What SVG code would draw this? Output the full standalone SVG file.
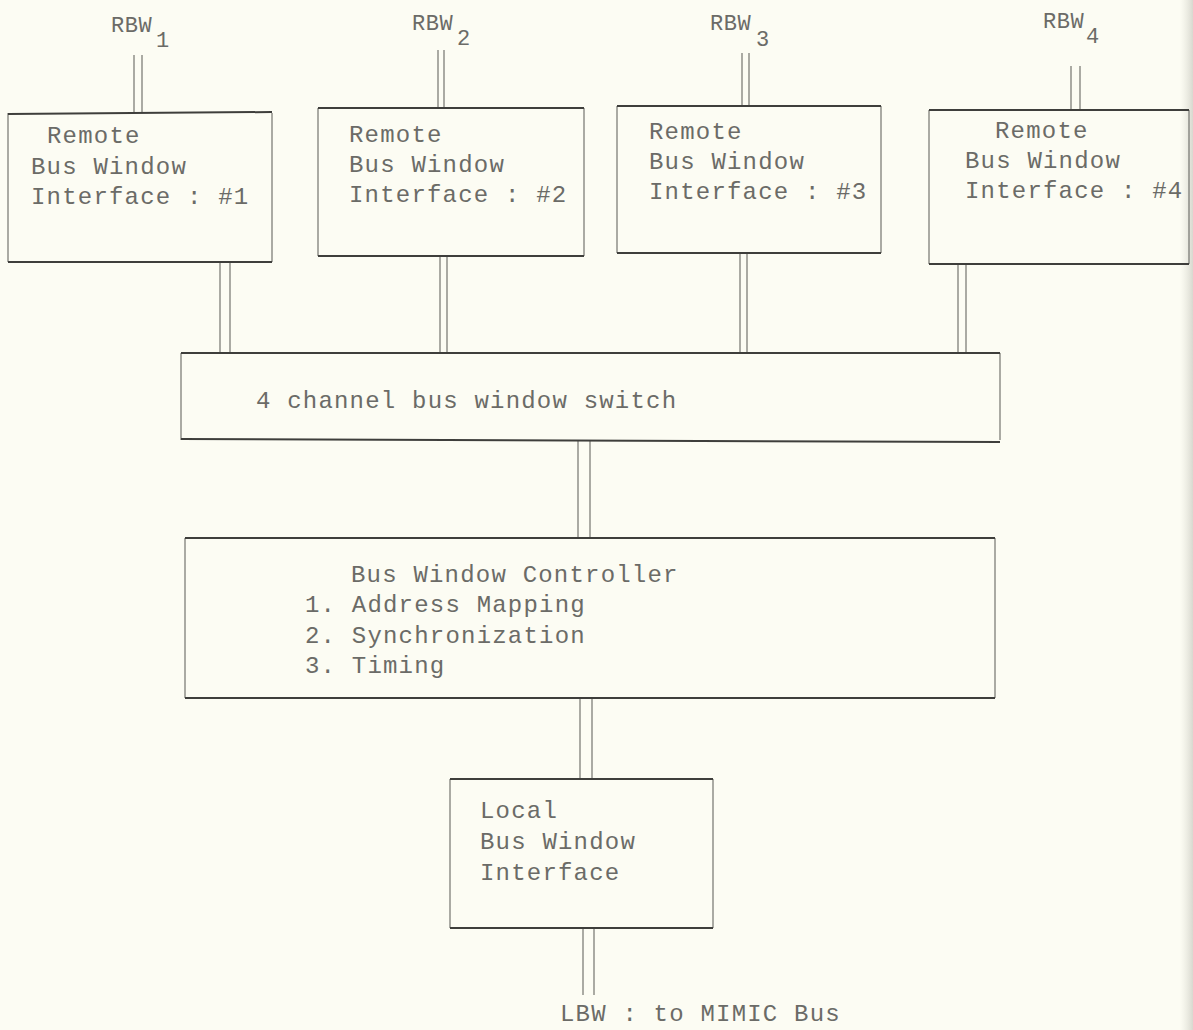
<svg xmlns="http://www.w3.org/2000/svg" width="1193" height="1030" viewBox="0 0 1193 1030">
  <defs>
    <linearGradient id="pageEdge" x1="0" y1="0" x2="1" y2="0">
      <stop offset="0" stop-color="#e6e6dc" stop-opacity="0"/>
      <stop offset="1" stop-color="#d8d8cf" stop-opacity="1"/>
    </linearGradient>
    <style>
      .bg { fill: #fcfcf3; }
      .side { fill: none; stroke: #74746f; stroke-width: 1.2; }
      .edge { fill: none; stroke: #3e3e3b; stroke-width: 2; }
      .bus { fill: none; stroke: #74746f; stroke-width: 1.2; }
      .t { font-family: "Liberation Mono", "Courier New", monospace; font-size: 24px; letter-spacing: 1.2px; fill: #6b6b67; }
      .lbl { font-family: "Liberation Mono", "Courier New", monospace; font-size: 22px; letter-spacing: 0.6px; fill: #6b6b67; }
    </style>
  </defs>

  <rect class="bg" x="0" y="0" width="1193" height="1030"/>
  <rect x="1180" y="0" width="13" height="1030" fill="url(#pageEdge)"/>

  <!-- bus connectors (double lines) -->
  <g id="connectors">
    <path class="bus" d="M134 55V113M142 55V113"/>
    <path class="bus" d="M438 50V108M444 50V108"/>
    <path class="bus" d="M742 53V106M749 53V106"/>
    <path class="bus" d="M1071 66V110M1080 66V110"/>
    <path class="bus" d="M220 262V353M230 262V353"/>
    <path class="bus" d="M440 256V353M447 256V353"/>
    <path class="bus" d="M740 253V353M747 253V353"/>
    <path class="bus" d="M958 264V353M966 264V353"/>
    <path class="bus" d="M578 440V538M590 440V538"/>
    <path class="bus" d="M580 698V779M592 698V779"/>
    <path class="bus" d="M583 928V995M594 928V995"/>
  </g>

  <!-- external bus labels -->
  <g id="label-rbw1">
    <text class="lbl" x="111" y="32">RBW</text>
    <text class="lbl" x="156" y="47">1</text>
  </g>
  <g id="label-rbw2">
    <text class="lbl" x="412" y="30">RBW</text>
    <text class="lbl" x="457" y="45">2</text>
  </g>
  <g id="label-rbw3">
    <text class="lbl" x="710" y="30">RBW</text>
    <text class="lbl" x="756" y="46">3</text>
  </g>
  <g id="label-rbw4">
    <text class="lbl" x="1043" y="28">RBW</text>
    <text class="lbl" x="1086" y="43">4</text>
  </g>

  <!-- remote bus window interfaces -->
  <g id="rbwi-1">
    <path class="side" d="M8 113V262M272 113V262"/>
    <path class="edge" d="M8 114L272 112M8 262H272"/>
    <text class="t" x="47" y="143">Remote</text>
    <text class="t" x="31" y="174">Bus Window</text>
    <text class="t" x="31" y="204">Interface : #1</text>
  </g>
  <g id="rbwi-2">
    <path class="side" d="M318 108V256M584 108V256"/>
    <path class="edge" d="M318 108H584M318 256H584"/>
    <text class="t" x="349" y="142">Remote</text>
    <text class="t" x="349" y="172">Bus Window</text>
    <text class="t" x="349" y="202">Interface : #2</text>
  </g>
  <g id="rbwi-3">
    <path class="side" d="M617 106V253M881 106V253"/>
    <path class="edge" d="M617 106H881M617 253H881"/>
    <text class="t" x="649" y="139">Remote</text>
    <text class="t" x="649" y="169">Bus Window</text>
    <text class="t" x="649" y="199">Interface : #3</text>
  </g>
  <g id="rbwi-4">
    <path class="side" d="M929 110V264M1189 110V264"/>
    <path class="edge" d="M929 110H1189M929 264H1189"/>
    <text class="t" x="995" y="138">Remote</text>
    <text class="t" x="965" y="168">Bus Window</text>
    <text class="t" x="965" y="198">Interface : #4</text>
  </g>

  <!-- switch -->
  <g id="switch">
    <path class="side" d="M181 353V440M1000 353V440"/>
    <path class="edge" d="M181 353H1000M181 439L1000 442"/>
    <text class="t" x="256" y="408">4 channel bus window switch</text>
  </g>

  <!-- controller -->
  <g id="controller">
    <path class="side" d="M185 538V698M995 538V698"/>
    <path class="edge" d="M185 538H995M185 698H995"/>
    <text class="t" x="351" y="582">Bus Window Controller</text>
    <text class="t" x="305" y="612">1. Address Mapping</text>
    <text class="t" x="305" y="643">2. Synchronization</text>
    <text class="t" x="305" y="673">3. Timing</text>
  </g>

  <!-- local interface -->
  <g id="lbwi">
    <path class="side" d="M450 779V928M713 779V928"/>
    <path class="edge" d="M450 779H713M450 928H713"/>
    <text class="t" x="480" y="818">Local</text>
    <text class="t" x="480" y="849">Bus Window</text>
    <text class="t" x="480" y="880">Interface</text>
  </g>

  <g id="label-lbw">
    <text class="t" x="560" y="1021">LBW : to MIMIC Bus</text>
  </g>
</svg>
